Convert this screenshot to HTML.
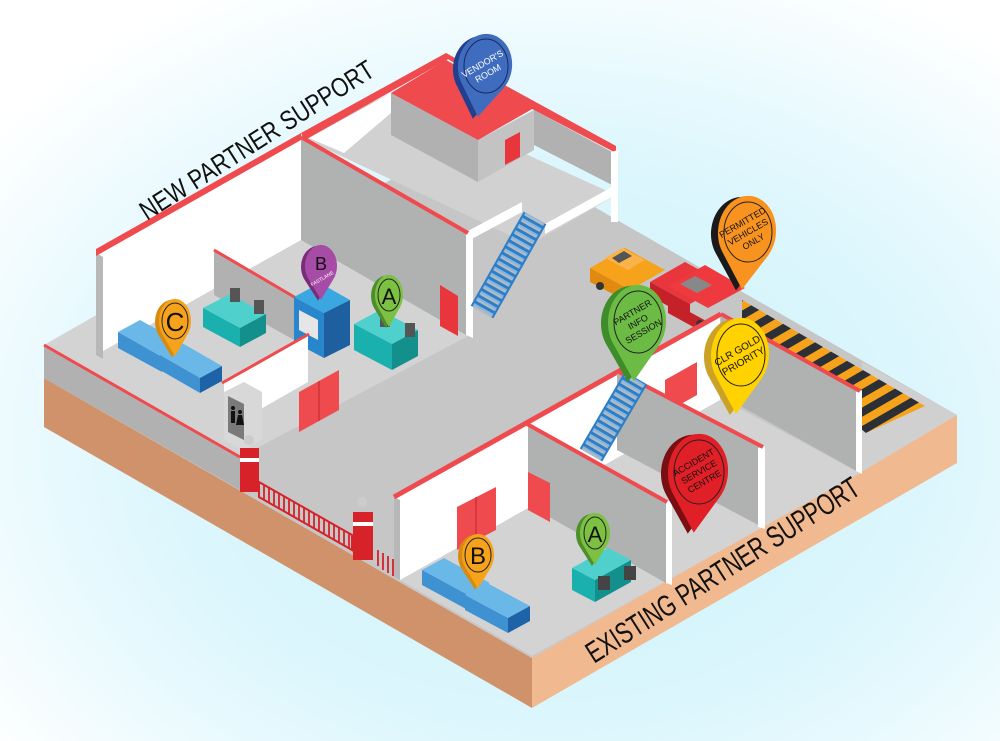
<!DOCTYPE html>
<html><head><meta charset="utf-8"><style>
html,body{margin:0;padding:0;width:1000px;height:741px;overflow:hidden;}
svg{display:block;}
text{font-family:"Liberation Sans",sans-serif;}
</style></head><body>
<svg width="1000" height="741" viewBox="0 0 1000 741" xmlns="http://www.w3.org/2000/svg">
<defs>
<radialGradient id="bg" cx="0.55" cy="0.6" r="0.7">
<stop offset="0" stop-color="#c6f1fb"/><stop offset="0.6" stop-color="#dff7fd"/><stop offset="1" stop-color="#ffffff"/>
</radialGradient>
<path id="pin" d="M0,1.6 L-0.78,0.62 A1,1 0 1 1 0.78,0.62 Z"/>
</defs>
<rect width="1000" height="741" fill="url(#bg)"/>

<!-- base slab -->
<polygon points="44,378 532,658 532,708 44,427" fill="#d0926a"/>
<polygon points="532,658 957,415 957,463 532,708" fill="#f1b98f"/>
<polygon points="44,378 532,658 957,415 469,135" fill="#c6c6c6"/>

<!-- left building floor -->
<polygon points="44,345 301,198 470,335 240,457" fill="#d3d3d4"/>
<!-- right building floor -->
<polygon points="400,580 720,398 860,473 532,656" fill="#d3d3d4"/>
<polygon points="860,473 957,415 862,362 862,470" fill="#d0d0d0"/>

<!-- hazard stripes -->
<defs><pattern id="haz" width="16" height="16" patternUnits="userSpaceOnUse" patternTransform="rotate(60)">
<rect width="16" height="16" fill="#f7a21b"/><rect width="8" height="16" fill="#2b2f36"/></pattern></defs>
<polygon points="742,300 925,406 866,433 742,330" fill="url(#haz)"/>

<!-- low front-left wall -->
<polygon points="44,345 240,457 240,490 44,378" fill="#b1b1b1"/>
<line x1="44" y1="345" x2="240" y2="457" stroke="#ef4b4f" stroke-width="3"/>

<!-- big white back wall -->
<polygon points="96,253 301,137 301,240 96,355" fill="#ffffff"/>
<polygon points="96,253 103,257 103,359 96,355" fill="#b8b8b8"/>
<polygon points="96,249 301,133 301,140 96,256" fill="#ef4b4f"/>

<!-- upper floor area -->
<polygon points="301,137 391,93 616,195 530,245" fill="#d1d1d1"/>
<polygon points="309,138 391,93 391,113 344,153" fill="#ffffff"/>
<polygon points="301,133 446,53 452,57 305,140" fill="#ef4b4f"/>
<polygon points="534,110 612,152 612,185 534,145" fill="#b1b1b1"/>
<polygon points="446,53 616,146 616,153 534,110 446,58" fill="#ef4b4f"/>
<polygon points="611,152 618,150 618,222 611,222" fill="#ffffff"/>
<!-- vendor box -->
<polygon points="391,93 478,140 478,182 391,135" fill="#b1b1b1"/>
<polygon points="478,140 534,110 534,150 478,182" fill="#c3c3c3"/>
<polygon points="391,93 446,60 534,108 478,140" fill="#ef4b4f"/>
<polygon points="505,140 520,132 520,157 505,165" fill="#e8363c"/>
<polygon points="466,232 522,202 522,212 466,242" fill="#ffffff"/>
<polygon points="545,224 612,187 612,197 545,234" fill="#ffffff"/>

<!-- partition wall -->
<polygon points="301,137 466,232 466,335 301,240" fill="#b0b1b1"/>
<polygon points="466,232 473,235 473,338 466,335" fill="#ffffff"/>
<line x1="301" y1="137" x2="468" y2="233" stroke="#ef4b4f" stroke-width="4"/>
<polygon points="440,285 458,296 458,336 440,326" fill="#e8363c"/>
<!-- stair 1 -->
<line x1="482" y1="312" x2="535" y2="218" stroke="#2f7dc4" stroke-width="26"/>
<line x1="482" y1="312" x2="535" y2="218" stroke="#7fb8e8" stroke-width="22" stroke-dasharray="4 3"/>
<line x1="482" y1="312" x2="535" y2="218" stroke="#b9b9b9" stroke-width="20" stroke-dasharray="2 5"/>

<!-- inner partition (desks) -->
<polygon points="214,250 294,297 294,340 214,295" fill="#b1b1b1"/>
<line x1="214" y1="250" x2="296" y2="298" stroke="#ef4b4f" stroke-width="3"/>
<polygon points="203,308 230,294 266,314 240,328" fill="#4fd0cc"/>
<polygon points="203,308 240,328 240,347 203,327" fill="#1ab0ad"/>
<polygon points="240,328 266,314 266,333 240,347" fill="#138f8c"/>
<rect x="230" y="288" width="10" height="14" fill="#555"/><rect x="254" y="300" width="10" height="14" fill="#555"/>
<polygon points="354,324 380,310 418,330 392,344" fill="#4fd0cc"/>
<polygon points="354,324 392,344 392,370 354,350" fill="#1ab0ad"/>
<polygon points="392,344 418,330 418,356 392,370" fill="#138f8c"/>
<rect x="380" y="313" width="10" height="14" fill="#555"/><rect x="405" y="323" width="10" height="14" fill="#555"/>
<!-- booth -->
<polygon points="294,297 320,283 350,300 324,313" fill="#3aa7e0"/>
<polygon points="294,297 324,313 324,358 294,342" fill="#2a86cc"/>
<polygon points="324,313 350,300 350,345 324,358" fill="#1e5fa0"/>
<polygon points="299,310 318,320 318,340 299,330" fill="#e6e6e6"/>
<!-- sofas -->
<polygon points="118,332 140,320 185,345 162,357" fill="#6ab8e8"/>
<polygon points="118,332 162,357 162,372 118,348" fill="#3e92d2"/>
<polygon points="160,355 182,343 222,366 200,378" fill="#6ab8e8"/>
<polygon points="160,355 200,378 200,393 160,370" fill="#3e92d2"/>
<polygon points="200,378 222,366 222,381 200,393" fill="#1e62a8"/>
<!-- white toilet room -->
<polygon points="224,382 308,335 308,382 224,430" fill="#ffffff"/>
<line x1="222" y1="383" x2="309" y2="334" stroke="#ef4b4f" stroke-width="3"/>
<polygon points="224,392 244,382 262,392 262,440 244,450 224,440" fill="#d8d8d8"/>
<polygon points="228,396 244,404 244,440 228,432" fill="#7a7a7a"/>
<circle cx="233" cy="408" r="2" fill="#111"/><rect x="231" y="411" width="4" height="12" fill="#111"/>
<circle cx="240" cy="412" r="2" fill="#111"/><polygon points="238,415 242,415 244,425 236,425" fill="#111"/>
<polygon points="299,392 339,370 339,410 299,432" fill="#ef4b4f"/>
<line x1="319" y1="381" x2="319" y2="421" stroke="#c0262b" stroke-width="1"/>
<!-- gate -->
<polygon points="259,482 352,535 352,550 259,497" fill="none" stroke="#d62228" stroke-width="2"/>
<g stroke="#d62228" stroke-width="1.8">
<line x1="264" y1="485" x2="264" y2="500"/><line x1="269" y1="488" x2="269" y2="503"/><line x1="274" y1="491" x2="274" y2="506"/><line x1="279" y1="494" x2="279" y2="509"/><line x1="284" y1="497" x2="284" y2="512"/><line x1="289" y1="500" x2="289" y2="515"/><line x1="294" y1="502" x2="294" y2="517"/><line x1="299" y1="505" x2="299" y2="520"/><line x1="304" y1="508" x2="304" y2="523"/><line x1="309" y1="511" x2="309" y2="526"/><line x1="314" y1="514" x2="314" y2="529"/><line x1="319" y1="517" x2="319" y2="532"/><line x1="324" y1="519" x2="324" y2="534"/><line x1="329" y1="522" x2="329" y2="537"/><line x1="334" y1="525" x2="334" y2="540"/><line x1="339" y1="528" x2="339" y2="543"/><line x1="344" y1="531" x2="344" y2="546"/><line x1="349" y1="534" x2="349" y2="549"/>
<line x1="378" y1="550" x2="378" y2="566"/><line x1="383" y1="553" x2="383" y2="570"/><line x1="388" y1="556" x2="388" y2="573"/><line x1="393" y1="559" x2="393" y2="576"/>
</g>
<rect x="240" y="448" width="19" height="44" fill="#d62228"/><rect x="240" y="458" width="19" height="4" fill="#fff"/>
<circle cx="249" cy="440" r="5" fill="#ccc"/>
<rect x="353" y="512" width="20" height="48" fill="#d62228"/><rect x="353" y="522" width="20" height="4" fill="#fff"/>
<circle cx="362" cy="502" r="5" fill="#ccc"/>

<!-- cars -->
<polygon points="590,268 625,248 665,270 630,290" fill="#f7a21b"/>
<polygon points="590,268 630,290 630,303 590,282" fill="#e08a10"/>
<polygon points="605,258 622,248 645,260 628,270" fill="#f9b34a"/>
<polygon points="612,258 624,251 632,256 619,263" fill="#555"/>
<circle cx="600" cy="286" r="4" fill="#333"/><circle cx="622" cy="298" r="4" fill="#333"/>
<polygon points="650,282 685,262 725,284 690,304" fill="#e8363c"/>
<polygon points="650,282 690,304 690,318 650,296" fill="#c42228"/>
<polygon points="668,286 705,265 745,288 708,308" fill="#ee3a3f"/>
<polygon points="668,300 708,322 708,335 668,313" fill="#c42228"/>
<polygon points="680,284 695,276 712,285 697,293" fill="#888"/>
<circle cx="700" cy="324" r="4" fill="#333"/>

<!-- right building back white wall -->
<polygon points="394,497 720,315 720,400 400,580" fill="#ffffff"/>
<polygon points="394,497 400,500 400,580 394,577" fill="#b8b8b8"/>
<line x1="394" y1="497" x2="721" y2="314" stroke="#ef4b4f" stroke-width="5"/>
<polygon points="721,315 860,392 860,473 721,395" fill="#b0b1b1"/>
<polygon points="856,392 862,390 862,474 856,471" fill="#ffffff"/>
<line x1="721" y1="314" x2="860" y2="391" stroke="#ef4b4f" stroke-width="4"/>
<polygon points="665,380 697,362 697,395 665,413" fill="#ef4b4f"/>
<polygon points="617,372 762,448 762,527 617,450" fill="#b0b1b1"/>
<polygon points="758,448 765,446 765,529 758,527" fill="#ffffff"/>
<line x1="617" y1="371" x2="763" y2="447" stroke="#ef4b4f" stroke-width="4"/>
<line x1="591" y1="455" x2="636" y2="378" stroke="#2f7dc4" stroke-width="26"/>
<line x1="591" y1="455" x2="636" y2="378" stroke="#7fb8e8" stroke-width="22" stroke-dasharray="4 3"/>
<line x1="591" y1="455" x2="636" y2="378" stroke="#b9b9b9" stroke-width="20" stroke-dasharray="2 5"/>
<polygon points="528,425 666,502 666,583 528,505" fill="#b0b1b1"/>
<polygon points="666,502 672,500 672,585 666,583" fill="#ffffff"/>
<line x1="527" y1="424" x2="667" y2="502" stroke="#ef4b4f" stroke-width="4"/>
<polygon points="528,472 550,483 550,522 528,510" fill="#ef4b4f"/>
<polygon points="457,507 496,487 496,530 457,550" fill="#ef4b4f"/>
<line x1="476" y1="497" x2="476" y2="540" stroke="#c0262b"/>
<polygon points="422,570 444,558 490,583 468,595" fill="#6ab8e8"/>
<polygon points="422,570 468,595 468,610 422,585" fill="#3e92d2"/>
<polygon points="465,595 487,583 530,606 508,618" fill="#6ab8e8"/>
<polygon points="465,595 508,618 508,633 465,610" fill="#3e92d2"/>
<polygon points="508,618 530,606 530,621 508,633" fill="#1e62a8"/>
<polygon points="572,568 608,548 631,560 595,580" fill="#4fd0cc"/>
<polygon points="572,568 595,580 595,602 572,590" fill="#1ab0ad"/>
<polygon points="595,580 631,560 631,582 595,602" fill="#138f8c"/>
<rect x="598" y="576" width="12" height="14" fill="#444"/><rect x="624" y="566" width="12" height="14" fill="#444"/>

<!-- labels -->
<text transform="translate(147,221) rotate(-32.5)" font-family="Liberation Sans Narrow, Liberation Sans, sans-serif" font-size="27" textLength="272" lengthAdjust="spacingAndGlyphs" fill="#111">NEW PARTNER SUPPORT</text>
<text transform="translate(594,664) rotate(-32.5)" font-family="Liberation Sans Narrow, Liberation Sans, sans-serif" font-size="30" textLength="318" lengthAdjust="spacingAndGlyphs" fill="#111">EXISTING PARTNER SUPPORT</text>

<!-- pins -->
<g>
<use href="#pin" transform="translate(480,68) rotate(8) scale(27,32)" fill="#223f8e"/>
<use href="#pin" transform="translate(485,66) rotate(8) scale(27,32)" fill="#3f6cbf"/>
<ellipse cx="486" cy="66" rx="22" ry="27" fill="none" stroke="#1a2a5a" stroke-width="1"/>
<text transform="translate(486,70) rotate(-30)" font-size="9" fill="#fff" text-anchor="middle"><tspan x="0" dy="-4">VENDOR'S</tspan><tspan x="0" dy="11">ROOM</tspan></text>
</g>
<g>
<use href="#pin" transform="translate(741,233) rotate(5) scale(30,36)" fill="#1a1a1a"/>
<use href="#pin" transform="translate(747,232) rotate(5) scale(29,36)" fill="#f7931e"/>
<ellipse cx="748" cy="232" rx="24" ry="30" fill="none" stroke="#222" stroke-width="1"/>
<text transform="translate(748,232) rotate(-30)" font-size="9" fill="#111" text-anchor="middle"><tspan x="0" dy="-8">PERMITTED</tspan><tspan x="0" dy="11">VEHICLES</tspan><tspan x="0" dy="11">ONLY</tspan></text>
</g>
<g>
<use href="#pin" transform="translate(631,323) rotate(3) scale(30,37)" fill="#3f8c2a"/>
<use href="#pin" transform="translate(637,322) rotate(3) scale(29,37)" fill="#6cbb44"/>
<ellipse cx="638" cy="322" rx="24" ry="31" fill="none" stroke="#222" stroke-width="1"/>
<text transform="translate(638,322) rotate(-30)" font-size="9" fill="#111" text-anchor="middle"><tspan x="0" dy="-8">PARTNER</tspan><tspan x="0" dy="11">INFO</tspan><tspan x="0" dy="11">SESSION</tspan></text>
</g>
<g>
<use href="#pin" transform="translate(734,356) rotate(4) scale(30,37)" fill="#c9a227"/>
<use href="#pin" transform="translate(740,355) rotate(4) scale(29,37)" fill="#ffd200"/>
<ellipse cx="741" cy="355" rx="24" ry="31" fill="none" stroke="#222" stroke-width="1"/>
<text transform="translate(741,357) rotate(-30)" font-size="10" fill="#111" text-anchor="middle"><tspan x="0" dy="-4">CLR GOLD</tspan><tspan x="0" dy="12">PRIORITY</tspan></text>
</g>
<g>
<use href="#pin" transform="translate(692,473) rotate(4) scale(31,38)" fill="#7a0f12"/>
<use href="#pin" transform="translate(698,472) rotate(4) scale(30,38)" fill="#e01f26"/>
<ellipse cx="699" cy="472" rx="25" ry="32" fill="none" stroke="#222" stroke-width="1"/>
<text transform="translate(699,472) rotate(-30)" font-size="9" fill="#111" text-anchor="middle"><tspan x="0" dy="-8">ACCIDENT</tspan><tspan x="0" dy="11">SERVICE</tspan><tspan x="0" dy="11">CENTRE</tspan></text>
</g>
<g>
<use href="#pin" transform="translate(172,322) scale(17,22)" fill="#d88a10"/>
<use href="#pin" transform="translate(175,321) scale(16,22)" fill="#f7a21b"/>
<ellipse cx="175" cy="321" rx="13" ry="18" fill="none" stroke="#222"/>
<text x="175" y="331" font-size="26" text-anchor="middle" fill="#111">C</text>
</g>
<g>
<use href="#pin" transform="translate(318,267) scale(17,21)" fill="#7a2c7a"/>
<use href="#pin" transform="translate(321,266) scale(16,21)" fill="#a64ca6"/>
<text x="321" y="270" font-size="18" text-anchor="middle" fill="#111">B</text>
<text transform="translate(323,280) rotate(-30)" font-size="5" text-anchor="middle" fill="#fff">FASTLANE</text>
</g>
<g>
<use href="#pin" transform="translate(386,296) scale(15,20)" fill="#4e8f2c"/>
<use href="#pin" transform="translate(389,295) scale(14,20)" fill="#7dc142"/>
<ellipse cx="389" cy="295" rx="11" ry="16" fill="none" stroke="#222"/>
<text x="389" y="304" font-size="22" text-anchor="middle" fill="#111">A</text>
</g>
<g>
<use href="#pin" transform="translate(475,556) scale(17,21)" fill="#d88a10"/>
<use href="#pin" transform="translate(478,555) scale(16,21)" fill="#f7a21b"/>
<ellipse cx="478" cy="555" rx="13" ry="17" fill="none" stroke="#222"/>
<text x="478" y="564" font-size="24" text-anchor="middle" fill="#111">B</text>
</g>
<g>
<use href="#pin" transform="translate(592,534) scale(16,20)" fill="#4e8f2c"/>
<use href="#pin" transform="translate(595,533) scale(15,20)" fill="#7dc142"/>
<ellipse cx="595" cy="533" rx="11" ry="16" fill="none" stroke="#222"/>
<text x="595" y="542" font-size="22" text-anchor="middle" fill="#111">A</text>
</g>
</svg>
</body></html>
